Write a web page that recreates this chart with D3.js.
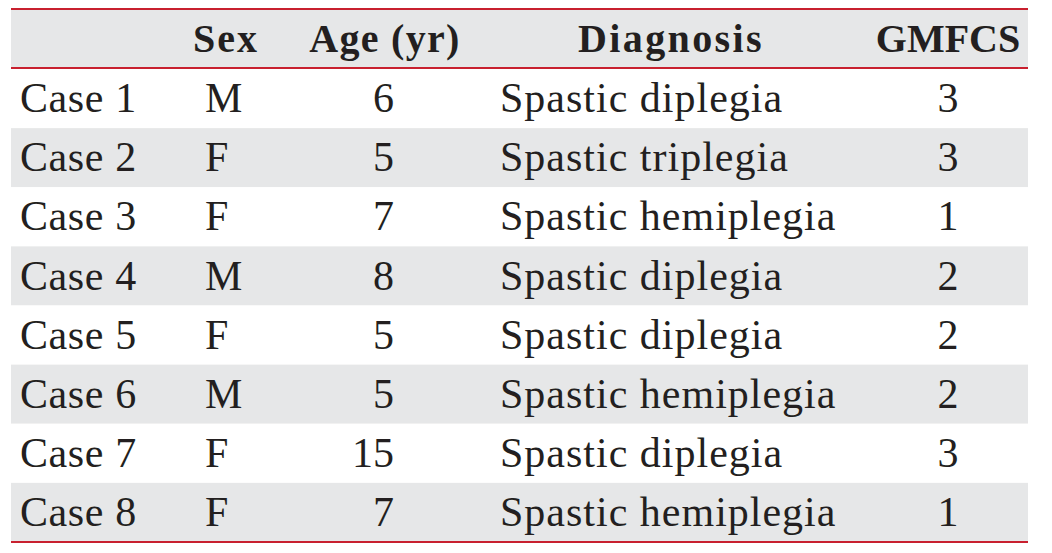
<!DOCTYPE html>
<html><head><meta charset="utf-8">
<script src="https://cdn.jsdelivr.net/npm/d3@7"></script>
<style>html,body{margin:0;padding:0;background:#fff;}</style>
</head><body>
<svg id="chart" width="1052" height="553"></svg>
<script>
const headers = ["", "Sex", "Age (yr)", "Diagnosis", "GMFCS"];
const cases = ["Case 1","Case 2","Case 3","Case 4","Case 5","Case 6","Case 7","Case 8"];
const sex = ["M","F","F","M","F","M","F","F"];
const age = [6,5,7,8,5,5,15,7];
const diagnosis = ["Spastic diplegia","Spastic triplegia","Spastic hemiplegia","Spastic diplegia","Spastic diplegia","Spastic hemiplegia","Spastic diplegia","Spastic hemiplegia"];
const gmfcs = [3,3,1,2,2,2,3,1];

(function(){
const svg = d3.select("#chart");
const left = 11, right = 1028, tableTop = 10, headerH = 59;
const rowsTop = 69, rowsBottom = 542;
const font = "'Liberation Serif', 'Times New Roman', serif";
const grey = "#e6e7e8", red = "#c8202f", ink = "#231f20";

const y = d3.scaleBand().domain(d3.range(cases.length)).range([rowsTop, rowsBottom]).padding(0);

svg.append("rect").attr("x", left).attr("y", tableTop).attr("width", right-left).attr("height", headerH).attr("fill", grey);
svg.selectAll("rect.row").data(d3.range(cases.length)).join("rect")
  .attr("class","row")
  .attr("x", left).attr("y", i => y(i)).attr("width", right-left).attr("height", y.bandwidth())
  .attr("fill", i => i % 2 === 1 ? grey : "#fff");

[tableTop-1, rowsTop-1, rowsBottom].forEach(yy => {
  svg.append("line").attr("x1", left).attr("x2", right).attr("y1", yy).attr("y2", yy)
    .attr("stroke", red).attr("stroke-width", 2.2);
});

const headerX = [0, 226, 385, 671, 948];
const headerLS = [0, 2, 1.3, 2.4, 0];
svg.selectAll("text.h").data(headers).join("text")
  .attr("class","h")
  .attr("x", (d,i) => headerX[i]).attr("y", 52)
  .attr("text-anchor","middle")
  .attr("letter-spacing", (d,i) => headerLS[i])
  .attr("font-family", font).attr("font-weight","bold").attr("font-size", 40)
  .attr("fill", ink).text(d => d);

const base = i => y(i) + y.bandwidth()*0.73;
const cols = [
  {vals: cases, x: 20, anchor: "start", ls: 0.6},
  {vals: sex, x: 205, anchor: "start", ls: 0},
  {vals: age, x: 394, anchor: "end", ls: 0},
  {vals: diagnosis, x: 500, anchor: "start", ls: 1},
  {vals: gmfcs, x: 948, anchor: "middle", ls: 0}
];
cols.forEach((c, ci) => {
  svg.selectAll("text.c"+ci).data(c.vals).join("text")
    .attr("class","c"+ci)
    .attr("x", c.x).attr("y", (d,i) => base(i))
    .attr("text-anchor", c.anchor)
    .attr("letter-spacing", c.ls)
    .attr("font-family", font).attr("font-size", 42)
    .attr("fill", ink).text(d => d);
});
})();
</script>
</body></html>
